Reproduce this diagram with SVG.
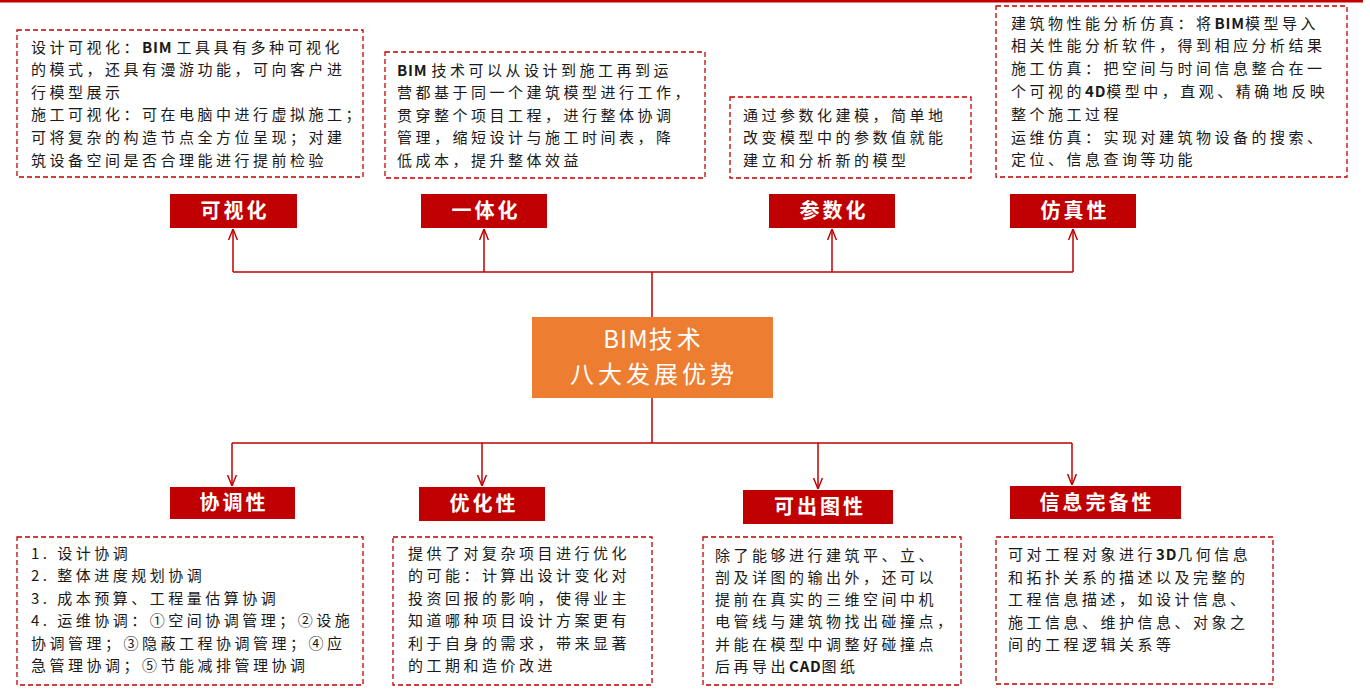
<svg xmlns="http://www.w3.org/2000/svg" width="1370" height="690" viewBox="0 0 1370 690">
<style>
.dbox{fill:#fff;stroke:#C00000;stroke-width:1.3;stroke-dasharray:5 3}
.tbox{fill:#C00000}
.txt{font-family:"Noto Sans CJK SC","Noto Sans",sans-serif;font-size:15px;fill:#1a1a1a;letter-spacing:3.5px}
.lat{letter-spacing:0.8px;font-weight:bold}
.ttl{font-family:"Noto Sans CJK SC","Noto Sans",sans-serif;font-size:20px;font-weight:bold;fill:#fff;letter-spacing:3px;text-anchor:middle}
.ctr{font-family:"Noto Sans CJK SC","Noto Sans",sans-serif;font-size:24px;fill:#fff;letter-spacing:4px;text-anchor:middle}
.ctr .lat{letter-spacing:1px;font-weight:normal}
.con{fill:none;stroke:#C00000;stroke-width:1.5}
</style>
<defs>
<marker id="arr" viewBox="0 0 10 10" refX="10" refY="5" markerWidth="11" markerHeight="11" markerUnits="userSpaceOnUse" orient="auto">
<path d="M0,1 L10,5 L0,9" fill="none" stroke="#C00000" stroke-width="1.3"/>
</marker>
</defs>
<rect x="0" y="0" width="1363" height="2.5" fill="#C00000"/>

<g id="connectors">
<line class="con" x1="652" y1="317" x2="652" y2="272"/>
<line class="con" x1="233" y1="272" x2="1073" y2="272"/>
<line class="con" x1="233" y1="272" x2="233" y2="229" marker-end="url(#arr)"/>
<line class="con" x1="484" y1="272" x2="484" y2="229" marker-end="url(#arr)"/>
<line class="con" x1="832" y1="272" x2="832" y2="229" marker-end="url(#arr)"/>
<line class="con" x1="1073" y1="272" x2="1073" y2="229" marker-end="url(#arr)"/>
<line class="con" x1="652" y1="398" x2="652" y2="443"/>
<line class="con" x1="232" y1="443" x2="1072" y2="443"/>
<line class="con" x1="232" y1="443" x2="232" y2="486" marker-end="url(#arr)"/>
<line class="con" x1="482" y1="443" x2="482" y2="486" marker-end="url(#arr)"/>
<line class="con" x1="818" y1="443" x2="818" y2="489" marker-end="url(#arr)"/>
<line class="con" x1="1072" y1="443" x2="1072" y2="485" marker-end="url(#arr)"/>
</g>

<g id="center">
<rect x="532" y="317" width="241" height="81" fill="#ED7D31"/>
<text class="ctr" x="654" y="348"><tspan class="lat">BIM</tspan>技术</text>
<text class="ctr" x="654" y="383">八大发展优势</text>
</g>

<g id="n-visual">
<rect class="tbox" x="170" y="194" width="127" height="34"/>
<text class="ttl" x="235" y="218">可视化</text>
</g>
<g id="n-visual-desc">
<rect class="dbox" x="17" y="30" width="346" height="147"/>
<text class="txt" x="31" y="52.5">设计可视化：<tspan class="lat">BIM </tspan> 工具具有多种可视化</text>
<text class="txt" x="31" y="75.1">的模式，还具有漫游功能，可向客户进</text>
<text class="txt" x="31" y="97.7">行模型展示</text>
<text class="txt" x="31" y="120.3">施工可视化：可在电脑中进行虚拟施工；</text>
<text class="txt" x="31" y="142.9">可将复杂的构造节点全方位呈现；对建</text>
<text class="txt" x="31" y="165.5">筑设备空间是否合理能进行提前检验</text>
</g>

<g id="n-integ">
<rect class="tbox" x="421" y="194" width="126" height="34"/>
<text class="ttl" x="486" y="218">一体化</text>
</g>
<g id="n-integ-desc">
<rect class="dbox" x="385" y="52" width="320" height="126"/>
<text class="txt" x="397" y="75.5"><tspan class="lat">BIM </tspan> 技术可以从设计到施工再到运</text>
<text class="txt" x="397" y="98">营都基于同一个建筑模型进行工作，</text>
<text class="txt" x="397" y="120.5">贯穿整个项目工程，进行整体协调</text>
<text class="txt" x="397" y="143">管理，缩短设计与施工时间表，降</text>
<text class="txt" x="397" y="165.5">低成本，提升整体效益</text>
</g>

<g id="n-param">
<rect class="tbox" x="769" y="194" width="126" height="34"/>
<text class="ttl" x="834" y="218">参数化</text>
</g>
<g id="n-param-desc">
<rect class="dbox" x="730" y="97" width="241" height="81"/>
<text class="txt" x="743" y="120.5">通过参数化建模，简单地</text>
<text class="txt" x="743" y="143">改变模型中的参数值就能</text>
<text class="txt" x="743" y="165.5">建立和分析新的模型</text>
</g>

<g id="n-sim">
<rect class="tbox" x="1010" y="194" width="126" height="34"/>
<text class="ttl" x="1075" y="218">仿真性</text>
</g>
<g id="n-sim-desc">
<rect class="dbox" x="996" y="6" width="351" height="171"/>
<text class="txt" x="1011" y="28.5">建筑物性能分析仿真：将<tspan class="lat">BIM</tspan>模型导入</text>
<text class="txt" x="1011" y="51.3">相关性能分析软件，得到相应分析结果</text>
<text class="txt" x="1011" y="74.1">施工仿真：把空间与时间信息整合在一</text>
<text class="txt" x="1011" y="96.9">个可视的<tspan class="lat">4D</tspan>模型中，直观、精确地反映</text>
<text class="txt" x="1011" y="119.7">整个施工过程</text>
<text class="txt" x="1011" y="142.5">运维仿真：实现对建筑物设备的搜索、</text>
<text class="txt" x="1011" y="165.3">定位、信息查询等功能</text>
</g>

<g id="n-coord">
<rect class="tbox" x="170" y="487" width="125" height="32"/>
<text class="ttl" x="234" y="510">协调性</text>
</g>
<g id="n-coord-desc">
<rect class="dbox" x="17" y="537" width="346" height="148"/>
<text class="txt" x="31" y="558.5">1. 设计协调</text>
<text class="txt" x="31" y="581">2. 整体进度规划协调</text>
<text class="txt" x="31" y="603.5">3. 成本预算、工程量估算协调</text>
<text class="txt" x="31" y="626">4. 运维协调：①空间协调管理；②设施</text>
<text class="txt" x="31" y="648.5">协调管理；③隐蔽工程协调管理；④应</text>
<text class="txt" x="31" y="671">急管理协调；⑤节能减排管理协调</text>
</g>

<g id="n-opt">
<rect class="tbox" x="419" y="487" width="126" height="34"/>
<text class="ttl" x="484" y="511">优化性</text>
</g>
<g id="n-opt-desc">
<rect class="dbox" x="393" y="537" width="259" height="148"/>
<text class="txt" x="408" y="558.5">提供了对复杂项目进行优化</text>
<text class="txt" x="408" y="581">的可能：计算出设计变化对</text>
<text class="txt" x="408" y="603.5">投资回报的影响，使得业主</text>
<text class="txt" x="408" y="626">知道哪种项目设计方案更有</text>
<text class="txt" x="408" y="648.5">利于自身的需求，带来显著</text>
<text class="txt" x="408" y="671">的工期和造价改进</text>
</g>

<g id="n-draw">
<rect class="tbox" x="743" y="490" width="150" height="34"/>
<text class="ttl" x="820" y="514">可出图性</text>
</g>
<g id="n-draw-desc">
<rect class="dbox" x="703" y="537" width="258" height="148"/>
<text class="txt" x="715" y="561">除了能够进行建筑平、立、</text>
<text class="txt" x="715" y="583">剖及详图的输出外，还可以</text>
<text class="txt" x="715" y="605">提前在真实的三维空间中机</text>
<text class="txt" x="715" y="627">电管线与建筑物找出碰撞点，</text>
<text class="txt" x="715" y="649.5">并能在模型中调整好碰撞点</text>
<text class="txt" x="715" y="672">后再导出<tspan class="lat">CAD</tspan>图纸</text>
</g>

<g id="n-info">
<rect class="tbox" x="1010" y="486" width="171" height="33"/>
<text class="ttl" x="1097" y="510">信息完备性</text>
</g>
<g id="n-info-desc">
<rect class="dbox" x="996" y="537" width="277" height="147"/>
<text class="txt" x="1008" y="560">可对工程对象进行<tspan class="lat">3D</tspan>几何信息</text>
<text class="txt" x="1008" y="582.5">和拓扑关系的描述以及完整的</text>
<text class="txt" x="1008" y="605">工程信息描述，如设计信息、</text>
<text class="txt" x="1008" y="627.5">施工信息、维护信息、对象之</text>
<text class="txt" x="1008" y="650">间的工程逻辑关系等</text>
</g>
</svg>
